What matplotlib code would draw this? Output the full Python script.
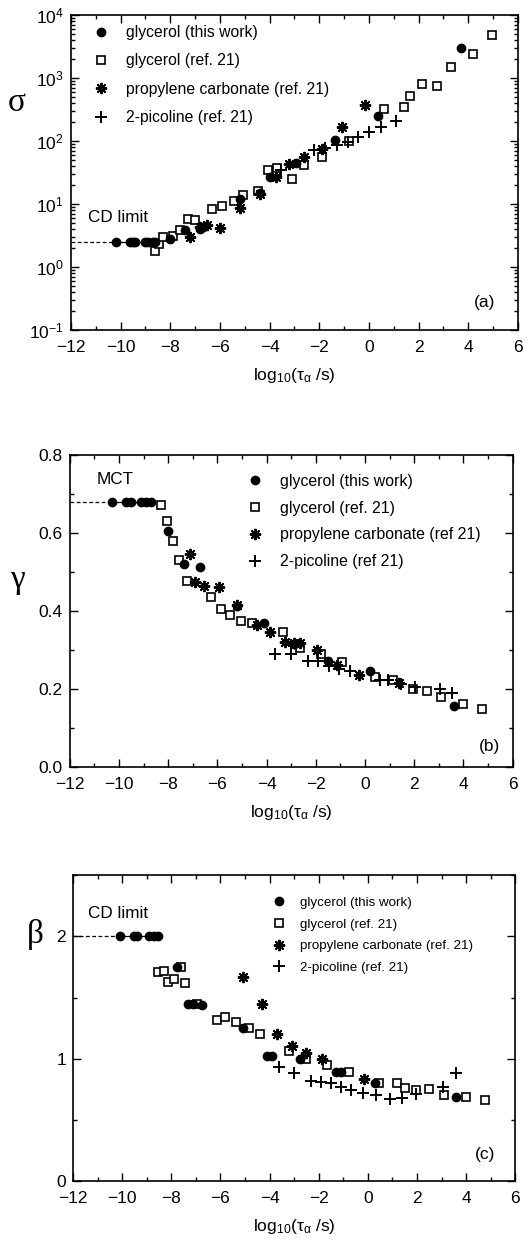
import numpy as np
import matplotlib.pyplot as plt
from matplotlib.ticker import MultipleLocator, LogLocator, NullFormatter, FormatStrFormatter

plt.rcParams['font.family'] = ['Liberation Sans', 'DejaVu Sans']
plt.rcParams['mathtext.fontset'] = 'custom'
plt.rcParams['mathtext.rm'] = 'Liberation Sans'
plt.rcParams['mathtext.default'] = 'regular'

# ---- panel (a): sigma ----
sig_gly_x = [-10.2, -9.6, -9.5, -9.4, -9.0, -8.9, -8.7, -8.6, -8.0, -7.4, -6.8, -6.7, -5.2, -4.4, -4.0, -2.95, -1.35, 0.35, 3.7]
sig_gly_y = [2.5, 2.5, 2.5, 2.5, 2.5, 2.5, 2.5, 2.5, 2.8, 3.8, 4.0, 4.3, 12, 15, 27, 45, 105, 250, 3000]
sig_ref_x = [-8.6, -8.45, -8.3, -7.9, -7.6, -7.3, -7.0, -6.3, -5.9, -5.45, -5.05, -4.45, -4.05, -3.7, -3.1, -2.6, -1.9, -0.8, 0.6, 1.4, 1.65, 2.15, 2.75, 3.3, 4.2, 4.95]
sig_ref_y = [1.8, 2.3, 3.0, 3.1, 3.8, 5.8, 5.5, 8.2, 9.2, 11, 14, 16, 35, 37, 25, 42, 56, 100, 320, 350, 520, 800, 750, 1500, 2400, 4800]
sig_pc_x = [-7.2, -6.8, -6.5, -6.0, -5.2, -4.4, -3.75, -3.2, -2.6, -1.9, -1.1, -0.15]
sig_pc_y = [3.0, 4.3, 4.7, 4.2, 8.5, 14.5, 27, 43, 55, 75, 165, 370]
sig_pic_x = [-3.55, -2.2, -1.75, -1.3, -0.85, -0.45, 0.0, 0.5, 1.1]
sig_pic_y = [35, 72, 78, 85, 95, 115, 140, 165, 210]
sig_limit = 2.5

# ---- panel (b): gamma ----
gam_gly_x = [-10.3, -9.7, -9.5, -9.1, -8.9, -8.7, -8.0, -7.35, -6.7, -5.2, -4.1, -2.9, -1.5, 0.2, 3.6]
gam_gly_y = [0.68, 0.68, 0.68, 0.68, 0.68, 0.68, 0.605, 0.52, 0.513, 0.413, 0.37, 0.316, 0.272, 0.245, 0.155]
gam_ref_x = [-8.3, -8.05, -7.8, -7.55, -7.25, -6.25, -5.85, -5.5, -5.05, -4.6, -3.35, -2.65, -1.8, -0.95, 0.4, 1.15, 1.95, 2.5, 3.1, 4.0, 4.75]
gam_ref_y = [0.672, 0.63, 0.58, 0.53, 0.478, 0.435, 0.405, 0.39, 0.375, 0.368, 0.345, 0.305, 0.29, 0.268, 0.23, 0.222, 0.2, 0.195, 0.18, 0.162, 0.148]
gam_pc_x = [-7.1, -6.9, -6.55, -5.95, -5.2, -4.4, -3.85, -3.25, -2.9, -2.65, -1.95, -1.15, -0.25, 1.4]
gam_pc_y = [0.545, 0.474, 0.464, 0.462, 0.415, 0.365, 0.345, 0.32, 0.317, 0.317, 0.3, 0.262, 0.236, 0.214]
gam_pic_x = [-3.65, -3.0, -2.3, -1.9, -1.45, -1.05, -0.6, 0.6, 0.95, 1.45, 2.05, 3.05, 3.55]
gam_pic_y = [0.29, 0.29, 0.272, 0.272, 0.26, 0.252, 0.246, 0.222, 0.222, 0.213, 0.205, 0.2, 0.19]
gam_limit = 0.68

# ---- panel (c): beta ----
bet_gly_x = [-10.1, -9.5, -9.4, -8.9, -8.7, -8.55, -7.75, -7.3, -7.1, -6.75, -5.1, -4.1, -3.9, -2.75, -1.3, -1.1, 0.3, 3.6]
bet_gly_y = [2.0, 2.0, 2.0, 2.0, 2.0, 2.0, 1.75, 1.45, 1.45, 1.44, 1.25, 1.02, 1.02, 1.0, 0.89, 0.89, 0.8, 0.69]
bet_ref_x = [-8.55, -8.3, -8.15, -7.9, -7.45, -7.6, -6.95, -6.15, -5.8, -5.35, -4.85, -4.4, -3.2, -2.5, -1.65, -0.75, 0.45, 1.2, 1.5, 1.95, 2.5, 3.1, 4.0, 4.75]
bet_ref_y = [1.71, 1.72, 1.63, 1.65, 1.62, 1.75, 1.45, 1.32, 1.34, 1.3, 1.25, 1.2, 1.06, 1.0, 0.95, 0.89, 0.8, 0.8, 0.76, 0.74, 0.75, 0.7, 0.69, 0.66]
bet_pc_x = [-5.1, -4.3, -3.7, -3.1, -2.5, -1.85, -0.15]
bet_pc_y = [1.67, 1.45, 1.2, 1.1, 1.05, 1.0, 0.83]
bet_pic_x = [-3.6, -3.0, -2.3, -1.9, -1.5, -1.1, -0.7, -0.2, 0.35, 0.9, 1.4, 1.95, 3.05, 3.6]
bet_pic_y = [0.93, 0.88, 0.82, 0.81, 0.8, 0.77, 0.74, 0.72, 0.7, 0.67, 0.68, 0.71, 0.77, 0.88]
bet_limit = 2.0

labels_a = ['glycerol (this work)', 'glycerol (ref. 21)', 'propylene carbonate (ref. 21)', '2-picoline (ref. 21)']
labels_b = ['glycerol (this work)', 'glycerol (ref. 21)', 'propylene carbonate (ref 21)', '2-picoline (ref 21)']

xlabel = r'log$_{10}$(τ$_{α}$ /s)'
asterisk = (8, 2, 0)


def draw_panel(ax, gly, ref, pc, pic, limit, labels, ms=6.0):
    # limit line: dashed up to first point, solid through the plateau points
    plateau = [x for x, y in zip(*gly) if y == limit]
    ax.plot([-12, min(plateau)], [limit, limit], color='k', lw=0.9, ls=(0, (3, 2)))
    ax.plot([min(plateau), max(plateau)], [limit, limit], color='k', lw=0.9)
    ax.plot(ref[0], ref[1], 's', ms=ms * 0.95, mfc='white', mec='k', mew=1.2, ls='none', label=labels[1], zorder=3)
    ax.plot(gly[0], gly[1], 'o', ms=ms, color='k', ls='none', label=labels[0], zorder=4)
    ax.plot(pc[0], pc[1], marker=asterisk, ms=ms * 1.35, mec='k', mew=1.4, ls='none', label=labels[2], zorder=4)
    ax.plot(pic[0], pic[1], '+', ms=ms * 1.35, mec='k', mew=1.4, ls='none', label=labels[3], zorder=4)
    ax.set_xlim(-12, 6)
    ax.xaxis.set_major_locator(MultipleLocator(2))
    ax.xaxis.set_minor_locator(MultipleLocator(1))
    ax.tick_params(which='both', direction='in', top=True, right=True, labelsize=12.5, width=1.0)
    ax.tick_params(which='major', length=6)
    ax.tick_params(which='minor', length=3)
    ax.tick_params(axis='x', which='major', pad=7)
    ax.tick_params(axis='y', which='major', pad=5)
    for s in ax.spines.values():
        s.set_linewidth(1.2)
    ax.set_xlabel(xlabel, fontsize=12.5, labelpad=8)
    h, l = ax.get_legend_handles_labels()
    order = [l.index(t) for t in labels]
    return [h[i] for i in order], [l[i] for i in order]


fig = plt.figure(figsize=(5.29, 12.43), dpi=100)

# (a)
ax1 = fig.add_axes([0.134, 0.7345, 0.845, 0.2534])
ax1.set_yscale('log')
h, l = draw_panel(ax1, (sig_gly_x, sig_gly_y), (sig_ref_x, sig_ref_y), (sig_pc_x, sig_pc_y),
                  (sig_pic_x, sig_pic_y), sig_limit, labels_a)
ax1.set_ylim(0.1, 1e4)
ax1.yaxis.set_major_locator(LogLocator(base=10, numticks=10))
ax1.yaxis.set_minor_locator(LogLocator(base=10, subs=np.arange(2, 10), numticks=20))
ax1.yaxis.set_minor_formatter(NullFormatter())
ax1.legend(h, l, loc='upper left', bbox_to_anchor=(0.05, 0.968), frameon=False, fontsize=11.3,
           handlelength=1.0, handletextpad=1.1, labelspacing=0.85, borderpad=0, borderaxespad=0)
ax1.text(-11.3, 6.2, 'CD limit', fontsize=12.3, va='center')
ax1.text(0.926, 0.086, '(a)', transform=ax1.transAxes, fontsize=12.5, ha='center', va='center')
ax1.set_ylabel('σ', family=['Liberation Serif', 'DejaVu Serif'], fontsize=24, rotation=0, va='center', ha='center')
ax1.yaxis.set_label_coords(-0.12, 0.72)

# (b)
ax2 = fig.add_axes([0.132, 0.383, 0.837, 0.251])
h, l = draw_panel(ax2, (gam_gly_x, gam_gly_y), (gam_ref_x, gam_ref_y), (gam_pc_x, gam_pc_y),
                  (gam_pic_x, gam_pic_y), gam_limit, labels_b)
ax2.set_ylim(0.0, 0.8)
ax2.yaxis.set_major_locator(MultipleLocator(0.2))
ax2.yaxis.set_minor_locator(MultipleLocator(0.1))
ax2.yaxis.set_major_formatter(FormatStrFormatter('%.1f'))
ax2.legend(h, l, loc='upper left', bbox_to_anchor=(0.40, 0.94), frameon=False, fontsize=11.4,
           handlelength=1.0, handletextpad=1.1, labelspacing=0.75, borderpad=0, borderaxespad=0)
ax2.text(0.06, 0.92, 'MCT', transform=ax2.transAxes, fontsize=12.3, va='center')
ax2.text(0.948, 0.067, '(b)', transform=ax2.transAxes, fontsize=12.5, ha='center', va='center')
ax2.set_ylabel('γ', family=['Liberation Serif', 'DejaVu Serif'], fontsize=24, rotation=0, va='center', ha='center')
ax2.yaxis.set_label_coords(-0.118, 0.6)

# (c)
ax3 = fig.add_axes([0.138, 0.0499, 0.836, 0.246])
h, l = draw_panel(ax3, (bet_gly_x, bet_gly_y), (bet_ref_x, bet_ref_y), (bet_pc_x, bet_pc_y),
                  (bet_pic_x, bet_pic_y), bet_limit, labels_a)
ax3.set_ylim(0, 2.5)
ax3.yaxis.set_major_locator(MultipleLocator(1))
ax3.yaxis.set_minor_locator(MultipleLocator(0.5))
ax3.legend(h, l, loc='upper left', bbox_to_anchor=(0.45, 0.93), frameon=False, fontsize=9.6,
           handlelength=1.0, handletextpad=1.1, labelspacing=0.7, borderpad=0, borderaxespad=0)
ax3.text(0.034, 0.876, 'CD limit', transform=ax3.transAxes, fontsize=12.3, va='center')
ax3.text(0.932, 0.085, '(c)', transform=ax3.transAxes, fontsize=12.5, ha='center', va='center')
ax3.set_ylabel('β', family=['Liberation Serif', 'DejaVu Serif'], fontsize=24, rotation=0, va='center', ha='center')
ax3.yaxis.set_label_coords(-0.085, 0.805)

fig.savefig('out.png', dpi=100)
